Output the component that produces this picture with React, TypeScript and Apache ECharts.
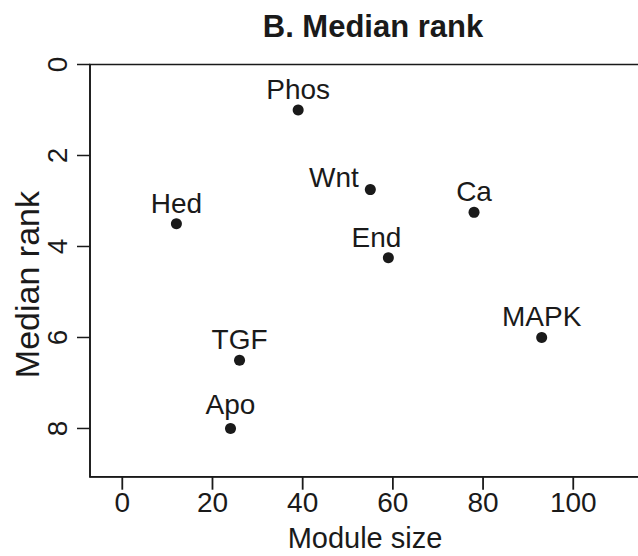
import React, { useEffect, useRef } from "react";
import * as echarts from "echarts";

const moduleNames = ["Phos", "Wnt", "Ca", "Hed", "End", "MAPK", "TGF", "Apo"];
const moduleSizes = [39, 55, 78, 12, 59, 93, 26, 24];
const medianRanks = [1, 2.75, 3.25, 3.5, 4.25, 6, 6.5, 8];
const xTicks = [0, 20, 40, 60, 80, 100];
const yTicks = [0, 2, 4, 6, 8];

const FONT = "'Liberation Sans', Arial, Helvetica, sans-serif";
const INK = "#1a1a1a";

const labelOverrides: Record<string, any> = {
  Wnt: { position: "left", distance: 6, offset: [0, -12] },
  End: { offset: [-12, 0] },
  Apo: { offset: [0, -3] },
};

const X_MIN = -7.16;
const X_MAX = 114.8;
const Y_MIN = 0;
const Y_MAX = 9.06;
const W = 638;
const H = 556;
const TICK_LEN = 13;
const TICK_W = 1.8;

export default function App() {
  const ref = useRef<HTMLDivElement>(null);
  useEffect(() => {
    if (!ref.current) return;
    const chart = echarts.init(ref.current, null, { renderer: "svg" });
    const data = moduleNames.map((n, i) => ({
      name: n,
      value: [moduleSizes[i], medianRanks[i]],
      label: labelOverrides[n] ? { ...labelOverrides[n] } : undefined,
    }));

    chart.setOption({
      animation: false,
      backgroundColor: "#ffffff",
      title: {
        text: "B. Median rank",
        left: 368,
        textAlign: "center",
        top: 6,
        textStyle: { fontFamily: FONT, fontWeight: "bold", fontSize: 31, color: INK },
      },
      grid: {
        left: 90,
        top: 64.5,
        right: -2,
        bottom: 79.3,
        show: true,
        borderColor: INK,
        borderWidth: 1.6,
        backgroundColor: "transparent",
        outerBoundsMode: "none",
        containLabel: false,
      },
      xAxis: {
        type: "value",
        min: X_MIN,
        max: X_MAX,
        name: "Module size",
        nameLocation: "middle",
        nameGap: 47,
        nameTextStyle: { fontFamily: FONT, fontSize: 29, color: INK },
        splitLine: { show: false },
        axisLine: { show: true, onZero: false, lineStyle: { color: INK, width: 1.6 } },
        axisTick: { show: false },
        axisLabel: {
          customValues: xTicks,
          margin: 12,
          fontFamily: FONT,
          fontSize: 28,
          color: INK,
        },
      },
      yAxis: {
        type: "value",
        inverse: true,
        min: Y_MIN,
        max: Y_MAX,
        name: "Median rank",
        nameLocation: "middle",
        nameGap: 46,
        nameMoveOverlap: false,
        nameRotate: 90,
        nameTextStyle: { fontFamily: FONT, fontSize: 34, color: INK, padding: [0, 28, 0, 0] },
        splitLine: { show: false },
        axisLine: { show: true, onZero: false, lineStyle: { color: INK, width: 1.6 } },
        axisTick: { show: false },
        axisLabel: {
          customValues: yTicks,
          rotate: 90,
          margin: 19,
          fontFamily: FONT,
          fontSize: 28,
          color: INK,
        },
      },
      series: [
        {
          type: "scatter",
          symbol: "circle",
          symbolSize: 11,
          itemStyle: { color: INK, opacity: 1 },
          data,
          z: 3,
          label: {
            show: true,
            position: "top",
            distance: 1,
            formatter: "{b}",
            fontFamily: FONT,
            fontSize: 28,
            color: INK,
            opacity: 1,
          },
        },
        {
          // y-axis tick marks, placed through the axis scale
          type: "custom",
          silent: true,
          clip: false,
          z: 10,
          data: yTicks.map((v) => [X_MIN, v]),
          encode: { x: 0, y: 1 },
          renderItem: (params: any, api: any) => {
            const p = api.coord([api.value(0), api.value(1)]);
            return {
              type: "rect",
              shape: { x: p[0] - TICK_LEN, y: p[1] - 0.75, width: TICK_LEN, height: 1.5 },
              style: { fill: INK },
            };
          },
        },
      ],
    });

    // x tick marks as top-level graphics, positioned through the axis scale
    const xTickGraphics = xTicks.map((v) => {
      const p = chart.convertToPixel({ gridIndex: 0 }, [v, Y_MAX]) as number[];
      return {
        type: "rect",
        z: 100,
        silent: true,
        shape: { x: p[0] - TICK_W / 2, y: p[1], width: TICK_W, height: TICK_LEN },
        style: { fill: INK },
      };
    });
    chart.setOption({ graphic: xTickGraphics });

    return () => chart.dispose();
  }, []);
  return (
    <div
      ref={ref}
      style={{ position: "fixed", left: 0, top: 0, width: W, height: H, background: "#fff" }}
    />
  );
}
